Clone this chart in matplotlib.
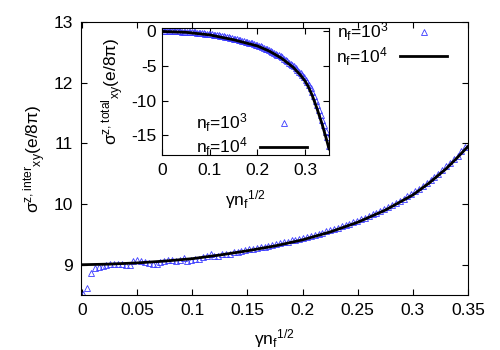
import numpy as np
import matplotlib
matplotlib.use('Agg')
import matplotlib.pyplot as plt

plt.rcParams['font.family'] = ['Liberation Sans', 'DejaVu Sans']
plt.rcParams['mathtext.default'] = 'regular'
plt.rcParams['font.size'] = 12.5
plt.rcParams['axes.unicode_minus'] = False

# main panel: sigma^{z,inter}
x_inter = np.linspace(0.001, 0.3475, 100)   # n_f = 10^3 sample positions
y_inter = [8.52, 8.62, 8.87, 8.94, 8.96, 8.98, 9.00, 9.02, 9.02, 9.02,
           9.01, 9.00, 9.00, 9.06, 9.07, 9.06, 9.05, 9.03, 9.02, 9.01,
           9.04, 9.06, 9.08, 9.07, 9.06, 9.08, 9.11, 9.06, 9.07, 9.10,
           9.09, 9.13, 9.14, 9.17, 9.14, 9.15, 9.17, 9.18, 9.18, 9.21,
           9.21, 9.22, 9.24, 9.26, 9.26, 9.28, 9.30, 9.30, 9.31, 9.33,
           9.34, 9.36, 9.37, 9.38, 9.40, 9.41, 9.43, 9.44, 9.46, 9.47,
           9.49, 9.51, 9.53, 9.55, 9.57, 9.59, 9.61, 9.63, 9.65, 9.67,
           9.70, 9.72, 9.75, 9.77, 9.80, 9.83, 9.86, 9.89, 9.92, 9.95,
           9.98, 10.02, 10.05, 10.09, 10.13, 10.17, 10.21, 10.25, 10.30, 10.35,
           10.40, 10.45, 10.50, 10.56, 10.62, 10.68, 10.74, 10.80, 10.87, 10.94]
xl_inter = [0, 0.025, 0.05, 0.075, 0.1, 0.125, 0.15, 0.175, 0.2, 0.225,
            0.25, 0.275, 0.3, 0.315, 0.33, 0.34, 0.35]
yl_inter = [9.0, 9.01, 9.03, 9.06, 9.10, 9.16, 9.23, 9.31, 9.41, 9.54,
            9.70, 9.90, 10.15, 10.35, 10.58, 10.76, 10.95]

# inset: sigma^{z,total}
x_tot = np.linspace(0, 0.35, 101)
y_tot = [0.35, 0.05, 0.05, 0.05, 0.05, 0.04, 0.04, 0.03, 0.03, 0.02,
         0.01, 0.0, -0.01, -0.02, -0.03, -0.05, -0.06, -0.08, -0.10, -0.12,
         -0.14, -0.16, -0.19, -0.21, -0.24, -0.27, -0.30, -0.33, -0.36, -0.39,
         -0.43, -0.46, -0.50, -0.54, -0.58, -0.63, -0.67, -0.72, -0.76, -0.81,
         -0.86, -0.92, -0.97, -1.03, -1.08, -1.14, -1.20, -1.26, -1.33, -1.39,
         -1.46, -1.53, -1.60, -1.67, -1.74, -1.82, -1.89, -1.97, -2.05, -2.15,
         -2.26, -2.37, -2.47, -2.58, -2.68, -2.79, -2.92, -3.06, -3.20, -3.34,
         -3.48, -3.62, -3.76, -3.93, -4.12, -4.31, -4.50, -4.69, -4.88, -5.07,
         -5.30, -5.55, -5.81, -6.06, -6.34, -6.66, -6.97, -7.33, -7.75, -8.23,
         -8.78, -9.34, -10.0, -10.67, -11.37, -12.10, -12.83, -13.61, -14.45, -15.29,
         -16.6]
xl_tot = [0, 0.05, 0.1, 0.15, 0.2, 0.225, 0.25, 0.275, 0.29, 0.3,
          0.3067, 0.315, 0.324, 0.335, 0.345, 0.35]
yl_tot = [0.0, -0.12, -0.5, -1.2, -2.1, -2.85, -3.85, -5.2, -6.3, -7.2,
          -8.0, -9.3, -11.0, -13.3, -15.7, -17.0]

blue = '#3a3aff'
lab3 = r'n$_f$=10$^3$'
lab4 = r'n$_f$=10$^4$'
xlab = r'$\gamma n_f{}^{1/2}$'

fig = plt.figure(figsize=(5, 3.5), dpi=100)
ax = fig.add_axes([0.162, 0.157, 0.774, 0.780])
ax.plot(x_inter, y_inter, ls='none', marker='^', ms=5, mfc='none', mec=blue, mew=0.6, label=lab3)
ax.plot(xl_inter, yl_inter, color='black', lw=2, label=lab4)
ax.set_xlim(-0.001, 0.35)
ax.set_ylim(8.5, 13)
ax.set_xticks([0, 0.05, 0.1, 0.15, 0.2, 0.25, 0.3, 0.35])
ax.set_xticklabels(['0', '0.05', '0.1', '0.15', '0.2', '0.25', '0.3', '0.35'])
ax.set_yticks([9, 10, 11, 12, 13])
ax.tick_params(direction='in', top=True, right=True, length=4, pad=6)
ax.set_xlabel(xlab, labelpad=6)
ax.set_ylabel(r'$\sigma^{z,inter}{}_{xy}(e/8\pi)$', labelpad=4)
ax.legend(loc='upper right', frameon=False, markerfirst=False, handlelength=2.7,
          borderaxespad=0, labelspacing=0.1, handletextpad=0.7,
          bbox_to_anchor=(0.964, 1.03))

ins = fig.add_axes([0.324, 0.557, 0.334, 0.363])
ins.plot(x_tot, y_tot, ls='none', marker='^', ms=5, mfc='none', mec=blue, mew=0.6, label=lab3)
ins.plot(xl_tot, yl_tot, color='black', lw=2, label=lab4)
ins.set_xlim(0, 0.35)
ins.set_ylim(-17.9, 0.5)
ins.set_xticks([0, 0.1, 0.2, 0.3])
ins.set_xticklabels(['0', '0.1', '0.2', '0.3'])
ins.set_yticks([0, -5, -10, -15])
ins.tick_params(direction='in', top=True, right=True, length=4, pad=4)
ins.tick_params(axis='x', pad=6)
ins.set_xlabel(xlab, labelpad=7)
ins.set_ylabel(r'$\sigma^{z,total}{}_{xy}(e/8\pi)$', labelpad=4)
ins.legend(loc='lower right', frameon=False, markerfirst=False, handlelength=2.7,
           borderaxespad=0, labelspacing=0.1, handletextpad=0.7,
           bbox_to_anchor=(0.91, -0.08))

fig.savefig('out.png', dpi=100)
